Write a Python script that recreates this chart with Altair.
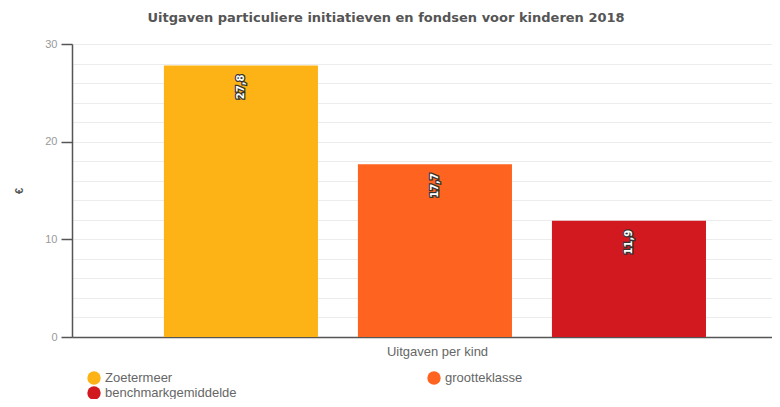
import altair as alt
import pandas as pd

series = ["Zoetermeer", "grootteklasse", "benchmarkgemiddelde"]
values = [27.8, 17.7, 11.9]
colors = ["#FDB316", "#FE6420", "#D2191F"]
y_ticks = list(range(0, 31, 2))

df = pd.DataFrame({
    "serie": series,
    "waarde": values,
    "label": [f"{v:.1f}".replace(".", ",") for v in values],
})

x_enc = alt.X(
    "serie:N",
    sort=series,
    scale=alt.Scale(paddingInner=0.206, paddingOuter=0.407, align=0.582),
    axis=alt.Axis(
        title="Uitgaven per kind", labels=False, ticks=False,
        domainColor="#555", domainWidth=1.5,
        titleColor="#666", titleFontSize=13, titleFontWeight="normal",
        titleFont="Liberation Sans", titlePadding=8, titleX=365,
    ),
)
y_enc = alt.Y(
    "waarde:Q",
    scale=alt.Scale(domain=[0, 30], nice=False),
    axis=alt.Axis(
        title="€", values=y_ticks, tickCount=len(y_ticks) + 4, labelOverlap=False,
        labelExpr="datum.value % 10 === 0 ? datum.label : ''",
        tickColor={"condition": {"test": "datum.value % 10 === 0", "value": "#555"}, "value": "transparent"},
        tickSize=11, tickWidth=1.5,
        domainColor="#555", domainWidth=1.5,
        gridColor="#ececec", gridWidth=1,
        labelColor="#999", labelFontSize=11, labelFont="Liberation Sans", labelPadding=4,
        titleColor="#555", titleFontSize=11, titlePadding=20, titleFontWeight="bold",
    ),
)

bars = alt.Chart(df).mark_bar().encode(
    x=x_enc,
    y=y_enc,
    color=alt.Color(
        "serie:N",
        sort=series,
        scale=alt.Scale(domain=series, range=colors),
        legend=alt.Legend(
            title=None, orient="none", legendX=15, legendY=327,
            values=series, direction="horizontal",
            columns=2, columnPadding=190, rowPadding=1,
            symbolType="circle", symbolSize=180, symbolStrokeWidth=0,
            labelFontSize=13, labelColor="#666", labelFont="Liberation Sans",
            gridAlign="all", labelLimit=300,
        ),
    ),
)

outline = alt.Chart(df).mark_text(
    angle=270, align="right", baseline="middle", dx=-9,
    fontSize=10, fontWeight="bold", font="DejaVu Sans",
    stroke="#333", strokeWidth=2.5, fill="#333",
).encode(x=alt.X("serie:N", sort=series), y="waarde:Q", text="label:N")

fill = alt.Chart(df).mark_text(
    angle=270, align="right", baseline="middle", dx=-9,
    fontSize=10, fontWeight="bold", font="DejaVu Sans", fill="white",
).encode(x=alt.X("serie:N", sort=series), y="waarde:Q", text="label:N")

chart = alt.layer(bars, outline, fill).properties(
    width=700,
    height=293,
    title=alt.TitleParams(
        "Uitgaven particuliere initiatieven en fondsen voor kinderen 2018",
        fontSize=13, font="DejaVu Sans", fontWeight="bold", color="#555",
        anchor="middle", offset=13, dx=-36,
    ),
    autosize=alt.AutoSizeParams(type="none"),
    padding={"left": 64, "top": 36, "right": 0, "bottom": 62},
).configure_view(stroke=None)

chart.save("out.html", embed_options={"renderer": "svg", "actions": False})
